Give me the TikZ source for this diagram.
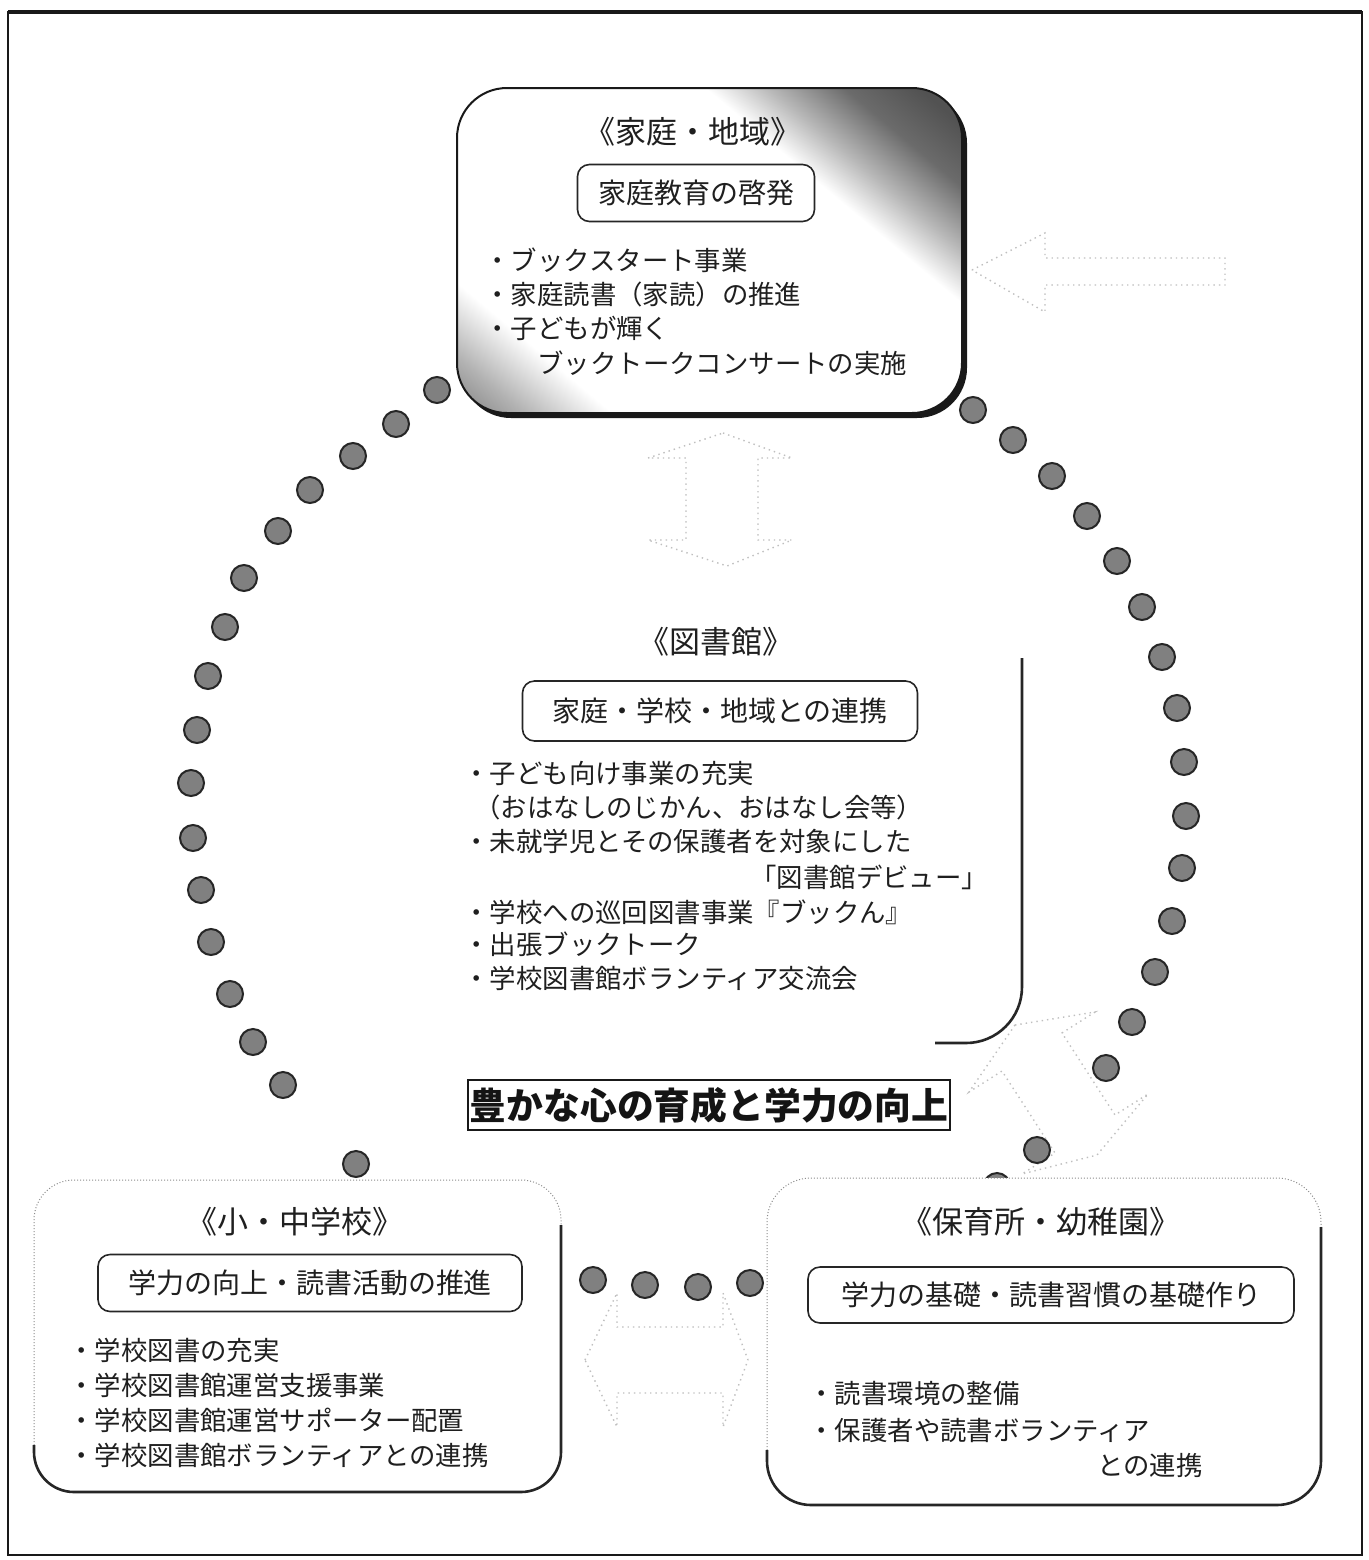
\documentclass[tikz,border=0pt]{standalone}
\usepackage{fontspec}
\newfontfamily\jp{Noto Sans CJK JP}
\pgfdeclareverticalshading{famshade}{100bp}{color(0bp)=(black!55); color(14bp)=(black!52); color(20bp)=(black!30); color(27bp)=(white); color(65bp)=(white); color(70bp)=(black!28); color(76bp)=(black!58); color(82bp)=(black!68); color(100bp)=(black!68)}
\begin{document}
\begin{tikzpicture}[x=0.5pt,y=-0.5pt,
  body/.style={font=\jp\fontsize{13.2pt}{16pt}\selectfont, anchor=west, inner sep=0pt, text=black!88},
  ttl/.style={font=\jp\fontsize{15.5pt}{18pt}\selectfont, inner sep=0pt, text=black!88},
  subbox/.style={draw=black!85, line width=0.8pt, rounded corners=6pt, fill=white, font=\jp\fontsize{14pt}{16pt}\selectfont, inner sep=0pt, text=black!88},
  dot/.style={circle, fill=black!50, draw=black!85, line width=1pt, minimum size=13pt, inner sep=0pt},
  faint/.style={draw=black!25, dotted, line width=0.7pt},
  boxline/.style={draw=black!85, line width=1.3pt},
  boxdots/.style={draw=black!45, densely dotted, line width=0.5pt}
]
\useasboundingbox (0,0) rectangle (1369,1560);
\fill[white] (0,0) rectangle (1369,1560);
% outer frame
\draw[black!90, line width=1pt] (8,12) rectangle (1362,1555);
\draw[black!90, line width=2.2pt] (8,12) -- (1362,12);

% faint dotted block arrows
\draw[faint] (723,433) -- (792,458) -- (758,458) -- (758,540) -- (792,540) -- (727,566) -- (648,540) -- (686,540) -- (686,458) -- (648,458) -- cycle;
\draw[faint] (972,270) -- (1045,233) -- (1045,258) -- (1225,258) -- (1225,285) -- (1045,285) -- (1045,312) -- cycle;
\draw[faint] (1015,1025) -- (1095,1012) -- (1062,1033) -- (1115,1115) -- (1148,1094) -- (1097,1155) -- (1022,1174) -- (1055,1153) -- (1002,1071) -- (969,1092) -- cycle;
\draw[faint] (585,1360) -- (617,1293) -- (617,1327) -- (723,1327) -- (723,1293) -- (748,1360) -- (723,1427) -- (723,1393) -- (617,1393) -- (617,1427) -- cycle;

% dots
\foreach \x/\y [count=\i] in {437/390, 396/424, 353/456, 310/490, 278/531, 244/578, 225/627, 208/676, 197/730, 191/783, 193/838, 201/890, 211/942, 230/994, 253/1042, 283/1085, 356/1164}
  \node[dot] (L\i) at (\x,\y) {};
\foreach \x/\y [count=\i] in {973/410, 1013/440, 1052/476, 1087/516, 1117/561, 1142/607, 1162/657, 1177/708, 1184/762, 1186/816, 1182/868, 1172/921, 1155/972, 1132/1022, 1106/1068, 1037/1150, 997/1186}
  \node[dot] (R\i) at (\x,\y) {};
\foreach \x/\y [count=\i] in {593/1280, 645/1285, 698/1287, 750/1283}
  \node[dot] (B\i) at (\x,\y) {};

% top box (family / community)
\fill[black!90, rounded corners=25pt] (461,93) rectangle (967,418);
\path[rounded corners=25pt, shading=famshade, shading angle=-40] (457,88) rectangle (962,413);
\draw[black!90, line width=1pt, rounded corners=25pt] (457,88) rectangle (962,413);
\node[ttl] (t1) at (693,132) {《家庭・地域》};
\node[subbox, minimum width=118.5pt, minimum height=28.5pt] (s1) at (696,193) {家庭教育の啓発};
\node[body] (a1) at (484,260) {・ブックスタート事業};
\node[body] (a2) at (484,294) {・家庭読書（家読）の推進};
\node[body] (a3) at (484,328) {・子どもが輝く};
\node[body] (a4) at (537,363) {ブックトークコンサートの実施};

% library
\draw[boxline, rounded corners=28pt] (1022,658) -- (1022,1043) -- (935,1043);
\node[ttl] (t2) at (716,642) {《図書館》};
\node[subbox, minimum width=197.5pt, minimum height=30pt] (s2) at (720,711) {家庭・学校・地域との連携};
\node[body] (b1) at (463,773) {・子ども向け事業の充実};
\node[body] (b2) at (474,807) {（おはなしのじかん、おはなし会等）};
\node[body] (b3) at (463,841) {・未就学児とその保護者を対象にした};
\node[body] (b4) at (750,877) {「図書館デビュー」};
\node[body] (b5) at (463,912) {・学校への巡回図書事業『ブックん』};
\node[body] (b6) at (463,944) {・出張ブックトーク};
\node[body] (b7) at (463,978) {・学校図書館ボランティア交流会};

% main goal
\node[draw=black!90, line width=0.9pt, minimum width=241pt, minimum height=25pt, inner sep=0pt, font=\jp\bfseries\fontsize{18.4pt}{20pt}\selectfont, text=black!92] (goal) at (709,1105) {豊かな心の育成と学力の向上};

% schools box
\fill[white, rounded corners=20pt] (34,1180) rectangle (561,1492);
\draw[boxdots, rounded corners=20pt] (34,1445) -- (34,1180) -- (561,1180) -- (561,1240);
\draw[boxline, rounded corners=20pt] (34,1445) -- (34,1492) -- (561,1492) -- (561,1225);
\node[ttl] (t3) at (295,1222) {《小・中学校》};
\node[subbox, minimum width=212pt, minimum height=28.5pt] (s3) at (310,1283) {学力の向上・読書活動の推進};
\node[body] (c1) at (68,1350) {・学校図書の充実};
\node[body] (c2) at (68,1385) {・学校図書館運営支援事業};
\node[body] (c3) at (68,1420) {・学校図書館運営サポーター配置};
\node[body] (c4) at (68,1455) {・学校図書館ボランティアとの連携};

% nursery box
\fill[white, rounded corners=22pt] (767,1178) rectangle (1321,1505);
\draw[boxdots, rounded corners=22pt] (767,1450) -- (767,1178) -- (1321,1178) -- (1321,1240);
\draw[boxline, rounded corners=22pt] (767,1450) -- (767,1505) -- (1321,1505) -- (1321,1227);
\node[ttl] (t4) at (1041,1222) {《保育所・幼稚園》};
\node[subbox, minimum width=243pt, minimum height=28pt] (s4) at (1051,1295) {学力の基礎・読書習慣の基礎作り};
\node[body] (e1) at (808,1393) {・読書環境の整備};
\node[body] (e2) at (808,1430) {・保護者や読書ボランティア};
\node[body] (e3) at (1097,1465) {との連携};
\end{tikzpicture}
\end{document}
